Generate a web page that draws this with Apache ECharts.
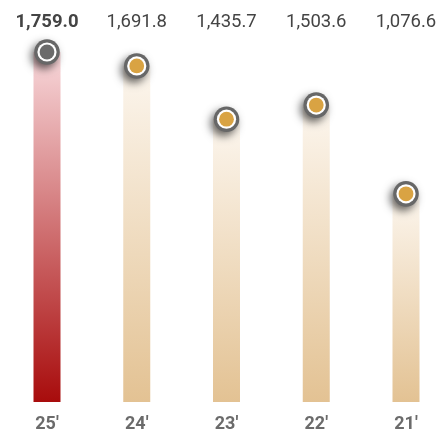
<!DOCTYPE html>
<html>
<head>
<meta charset="utf-8">
<script src="https://cdn.jsdelivr.net/npm/echarts@6/dist/echarts.min.js"></script>
<style>
  html, body { margin: 0; padding: 0; background: #fff; }
  #chart { width: 440px; height: 433px; }
</style>
</head>
<body>
<div id="chart"></div>
<script>
// Yearly totals, newest first
const years = ["25\u2032", "24\u2032", "23\u2032", "22\u2032", "21\u2032"];
const totals = [1759.0, 1691.8, 1435.7, 1503.6, 1076.6];
const valueLabels = ["1,759.0", "1,691.8", "1,435.7", "1,503.6", "1,076.6"];

const highlightIndex = 0;

function barGradient(i) {
  const stops = i === highlightIndex
    ? [{ offset: 0, color: '#f8d8db' }, { offset: 1, color: '#a80c0c' }]
    : [{ offset: 0, color: '#fcf6ee' }, { offset: 1, color: '#e3c293' }];
  return new echarts.graphic.LinearGradient(0, 0, 0, 1, stops);
}

// Ring marker sitting on the top of each bar: gray disc (casts the shadow),
// white ring, coloured centre dot — all filled, no strokes.
function renderMarker(params, api) {
  const idx = params.dataIndex;
  const p = api.coord([api.value(0), api.value(1)]);
  return {
    type: 'group',
    children: [
      {
        type: 'circle',
        shape: { cx: p[0], cy: p[1], r: 12.8 },
        style: {
          fill: '#676767',
          shadowBlur: 8,
          shadowOffsetX: -3,
          shadowOffsetY: 4,
          shadowColor: 'rgba(0,0,0,0.6)'
        }
      },
      {
        type: 'circle',
        shape: { cx: p[0], cy: p[1], r: 9.6 },
        style: { fill: '#ffffff' }
      },
      {
        type: 'circle',
        shape: { cx: p[0], cy: p[1], r: 7.4 },
        style: { fill: idx === highlightIndex ? '#6b6b6b' : '#d9a343' }
      }
    ]
  };
}

const chart = echarts.init(document.getElementById('chart'), null, { renderer: 'canvas' });

chart.setOption({
  animation: false,
  grid: { left: 47, right: 34, top: 52, bottom: 28 },
  xAxis: [
    {
      type: 'category',
      data: years,
      boundaryGap: false,
      position: 'bottom',
      axisLine: { show: false },
      axisTick: { show: false },
      axisLabel: {
        interval: 0,
        margin: 13,
        fontFamily: 'Roboto',
        fontSize: 18,
        fontWeight: 'bold',
        color: '#6b6b6b'
      }
    },
    {
      type: 'category',
      data: valueLabels,
      boundaryGap: false,
      position: 'top',
      axisLine: { show: false },
      axisTick: { show: false },
      axisLabel: {
        interval: 0,
        hideOverlap: false,
        margin: 20,
        fontFamily: 'Roboto',
        fontSize: 18.5,
        color: '#444',
        formatter: (v, i) => i === highlightIndex ? '{b|' + v + '}' : v,
        rich: { b: { fontFamily: 'Roboto', fontSize: 18.5, fontWeight: 'bold', color: '#444' } }
      }
    }
  ],
  yAxis: {
    type: 'value',
    min: 75,
    max: 1759,
    show: false,
    splitLine: { show: false }
  },
  series: [
    {
      type: 'bar',
      barWidth: 27,
      data: totals.map((v, i) => ({ value: v, itemStyle: { color: barGradient(i) } })),
      z: 1
    },
    {
      type: 'custom',
      clip: false,
      renderItem: renderMarker,
      encode: { x: 0, y: 1 },
      data: totals.map((v, i) => [i, v]),
      z: 3
    }
  ]
});
</script>
</body>
</html>
